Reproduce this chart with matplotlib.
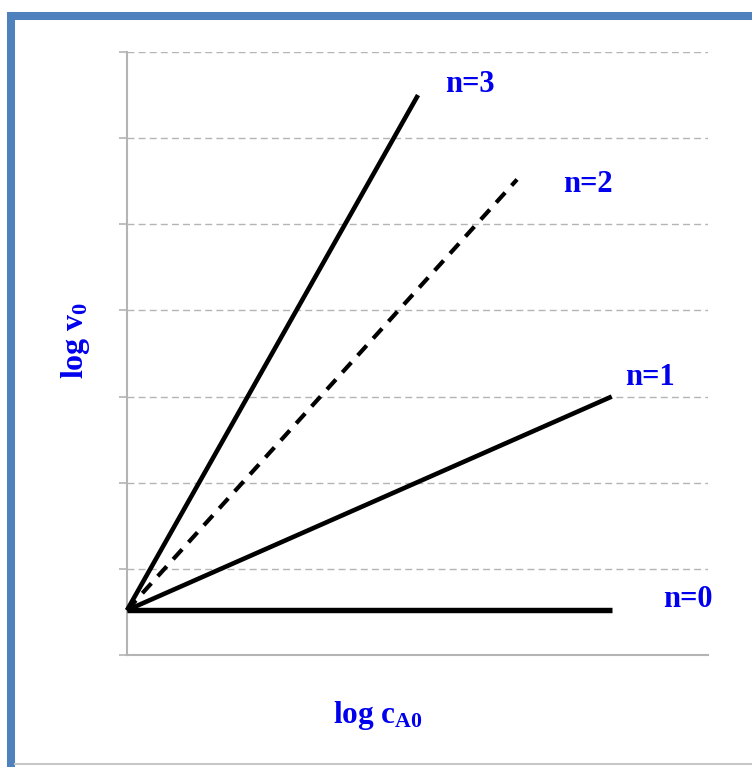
import matplotlib.pyplot as plt
from matplotlib.patches import Rectangle
from matplotlib.lines import Line2D

plt.rcParams.update({
    "mathtext.fontset": "custom",
    "mathtext.rm": "Liberation Serif",
    "mathtext.bf": "Liberation Serif:bold",
    "mathtext.it": "Liberation Serif:italic",
})

# data (arbitrary log units, origin shared)
origin = (0.0, 0.52)
orders = ["n=0", "n=1", "n=2", "n=3"]
x_end = [5.63, 5.63, 4.53, 3.38]
y_end = [0.52, 3.0, 5.52, 6.5]
styles = ["-", "-", "--", "-"]
widths = [3.9, 3.3, 3.0, 3.3]
label_xy = [(6.52, 0.64), (6.07, 3.22), (5.35, 5.46), (3.98, 6.62)]
grid_y = [1, 2, 3, 4, 5, 6, 7]

BLUE = "#0000EE"
GRAY = "#b4b4b4"

fig = plt.figure(figsize=(7.52, 7.67), dpi=100)
fig.patch.set_facecolor("white")

# frame on the slide
fig.add_artist(Rectangle((11 / 752, -0.05), 1.1, (767 - 16) / 767 + 0.05,
                         transform=fig.transFigure, fill=False,
                         edgecolor="#4F81BD", linewidth=5.8, zorder=0))
fig.add_artist(Line2D([15 / 752, 1], [3 / 767, 3 / 767], color="#c8c8c8",
                      lw=1.5, transform=fig.transFigure))

ax = fig.add_axes([127 / 752, 112 / 767, 581 / 752, 603 / 767])
ax.set_xlim(0, 581 / 86.1)
ax.set_ylim(0, 7)

for xe, ye, ls, lw in zip(x_end, y_end, styles, widths):
    ax.plot([origin[0], xe], [origin[1], ye], color="black", ls=ls, lw=lw,
            dashes=(3.2, 2.3) if ls == "--" else (None, None),
            solid_capstyle="butt", zorder=3, clip_on=False)

for name, (lx, ly) in zip(orders, label_xy):
    ax.text(lx, ly, name, color=BLUE, fontsize=22, fontweight="bold",
            family="Liberation Serif", ha="center", va="center")

ax.yaxis.grid(True, color=GRAY, ls=(0, (5, 3)), lw=1.0)
ax.set_yticks([0] + grid_y)
ax.set_yticklabels([])
ax.set_xticks([])
ax.tick_params(axis="y", length=6, width=1.2, color=GRAY)
for sp in ("top", "right"):
    ax.spines[sp].set_visible(False)
for sp in ("left", "bottom"):
    ax.spines[sp].set_color(GRAY)
    ax.spines[sp].set_linewidth(1.5)

fig.text(378 / 752, 1 - 715 / 767, r"$\mathbf{log\ c_{A0}}$", color=BLUE,
         fontsize=22.5, ha="center", va="center")
fig.text(75 / 752, 1 - 340 / 767, r"$\mathbf{log\ v_{0}}$", color=BLUE,
         fontsize=23, ha="center", va="center", rotation=90)

fig.savefig("out.png", dpi=100, facecolor="white")
